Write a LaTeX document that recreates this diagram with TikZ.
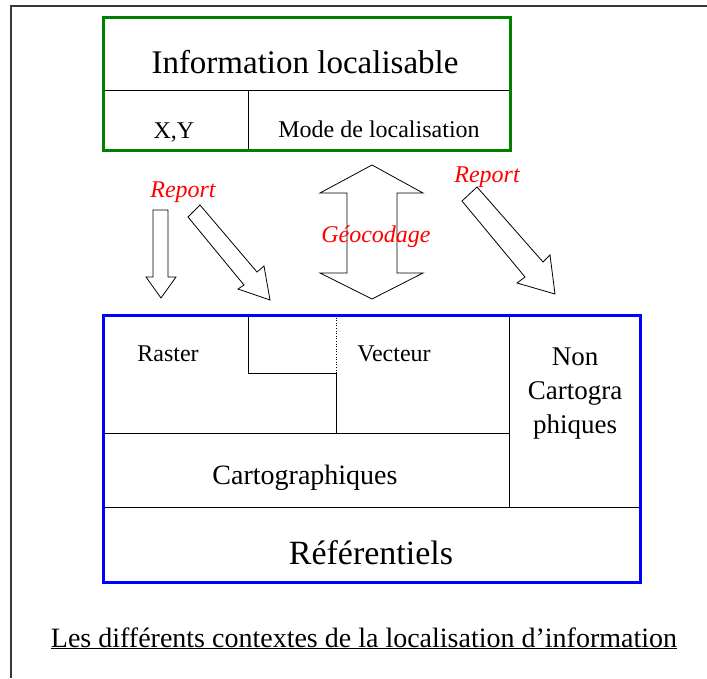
\documentclass[tikz,border=0pt]{standalone}
\usepackage{fontspec}
\setmainfont{Liberation Serif}
\definecolor{boxgreen}{HTML}{008000}
\definecolor{boxblue}{HTML}{0000FF}
\definecolor{reportred}{HTML}{FF0000}
\definecolor{frameink}{HTML}{383838}
\newcommand{\fs}[1]{\fontsize{#1}{1.2\dimexpr#1pt\relax}\selectfont}

\begin{document}
\begin{tikzpicture}[x=1pt, y=-1pt,
  frame/.style={draw=frameink, line width=1.6pt},
  sep/.style={draw=black, line width=.8pt},
  greenbox/.style={draw=boxgreen, line width=3pt},
  bluebox/.style={draw=boxblue, line width=3pt},
  txt/.style={anchor=base, inner sep=0pt, align=center},
  report/.style={txt, text=reportred, font=\fs{24}\itshape},
  blockarrow/.style={draw=black, line width=.8pt, fill=white, line join=miter}
]
  \useasboundingbox (0,0) rectangle (707,678);
  \draw[frame] (11,678) -- (11,6) -- (707,6);

  % information localisable
  \draw[sep] (103,90) -- (510,90);
  \draw[sep] (248,90) -- (248,150);
  \draw[greenbox] (103,17) rectangle (510,150);
  \node[txt, font=\fs{33}] (info) at (305,73) {Information localisable};
  \node[txt, font=\fs{24}] (xy) at (174,138) {X,Y};
  \node[txt, font=\fs{24}] (mode) at (379,137) {Mode de localisation};

  % arrows
  \draw[blockarrow] (153,210) -- (168,210) -- (168,277) -- (176,277) -- (161,298)
    -- (146,277) -- (153,277) -- cycle;
  \draw[blockarrow] (200,205) -- (257,272) -- (264,266) -- (270,300) -- (238,289)
    -- (244,285) -- (188,217) -- cycle;
  \draw[blockarrow] (372,165) -- (423,193) -- (397,193) -- (397,273) -- (423,273)
    -- (372,299) -- (320,273) -- (347,273) -- (347,193) -- (320,193) -- cycle;
  \draw[blockarrow] (477,187) -- (543,262) -- (550,255) -- (555,294) -- (517,283)
    -- (525,277) -- (462,201) -- cycle;
  \node[report] (report1) at (183,197) {Report};
  \node[report] (report2) at (487,182) {Report};
  \node[report] (geocodage) at (376,242) {Géocodage};

  % referentiels
  \draw[sep] (248,315) -- (248,373) -- (336,373) -- (336,433);
  \draw[draw=black, line width=.6pt, dotted] (336,315) -- (336,373);
  \draw[sep] (103,433) -- (509,433);
  \draw[sep] (509,315) -- (509,507);
  \draw[sep] (103,507) -- (640,507);
  \draw[bluebox] (103,315) rectangle (640,582);
  \node[txt, font=\fs{24}] (raster) at (168,361) {Raster};
  \node[txt, font=\fs{24}] (vecteur) at (394,361) {Vecteur};
  \node[txt, font=\fs{28}] (carto) at (305,484) {Cartographiques};
  \node[txt, font=\fs{27}] (noncarto1) at (575,365) {Non};
  \node[txt, font=\fs{27}] (noncarto2) at (575,399) {Cartogra};
  \node[txt, font=\fs{27}] (noncarto3) at (575,433) {phiques};
  \node[txt, font=\fs{34}] (referentiels) at (371,564) {Référentiels};

  \node[txt, font=\fs{28}] (caption) at (364,647)
    {\underline{Les différents contextes de la localisation d’information}};
\end{tikzpicture}
\end{document}
